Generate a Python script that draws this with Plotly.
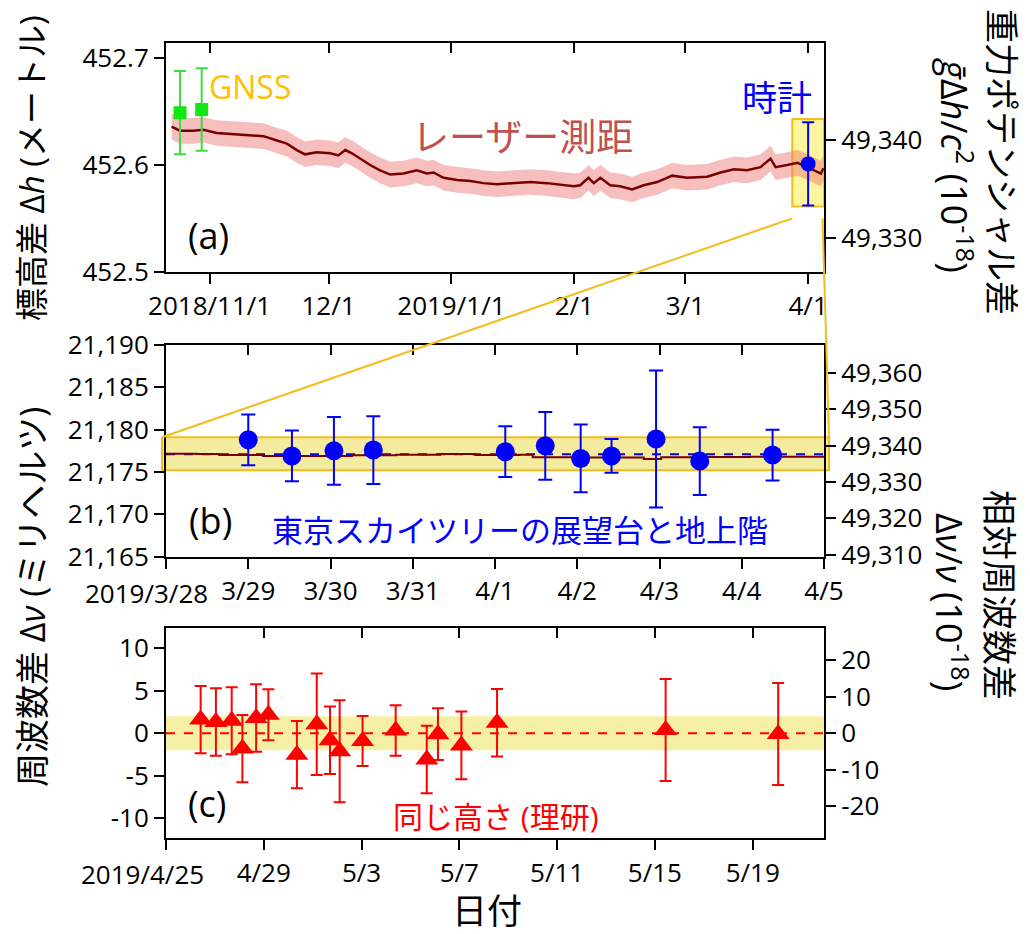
import plotly.graph_objects as go
import pandas as pd

W, H = 1030, 934
OFF = 8  # page body margin of the rendered html

# ---------------- data ----------------
# (a) laser ranging height difference (m)
laser_dates = [
    "2018-10-22 10:00", "2018-10-24 13:00", "2018-10-27 21:00", "2018-10-30 10:00",
    "2018-11-02 19:00", "2018-11-07 00:00", "2018-11-11 05:00", "2018-11-14 14:00",
    "2018-11-18 00:00", "2018-11-20 12:00", "2018-11-23 00:00", "2018-11-25 02:00",
    "2018-11-28 01:00", "2018-12-01 10:00", "2018-12-03 12:00", "2018-12-05 05:00",
    "2018-12-06 22:00", "2018-12-09 00:00", "2018-12-11 12:00", "2018-12-14 00:00",
    "2018-12-16 14:00", "2018-12-19 22:00", "2018-12-23 07:00", "2018-12-25 19:00",
    "2018-12-27 12:00", "2018-12-30 00:00", "2019-01-02 10:00", "2019-01-05 19:00",
    "2019-01-09 02:00", "2019-01-12 12:00", "2019-01-16 17:00", "2019-01-20 22:00",
    "2019-01-25 02:00", "2019-01-29 07:00", "2019-01-31 22:00", "2019-02-02 12:00",
    "2019-02-04 14:00", "2019-02-05 22:00", "2019-02-07 14:00", "2019-02-10 02:00",
    "2019-02-12 14:00", "2019-02-15 14:00", "2019-02-18 12:00", "2019-02-21 22:00",
    "2019-02-25 17:00", "2019-03-01 12:00", "2019-03-06 12:00", "2019-03-09 22:00",
    "2019-03-13 07:00", "2019-03-16 14:00", "2019-03-20 00:00", "2019-03-22 12:00",
    "2019-03-23 19:00", "2019-03-26 17:00", "2019-03-29 07:00", "2019-03-31 19:00",
    "2019-04-04 05:00", "2019-04-04 20:00",
]
laser_h = [
    452.636, 452.632, 452.632, 452.633,
    452.630, 452.629, 452.628, 452.627,
    452.623, 452.620, 452.614, 452.610,
    452.612, 452.611, 452.609, 452.614,
    452.611, 452.606, 452.600, 452.595,
    452.591, 452.592, 452.595, 452.592,
    452.593, 452.588, 452.586, 452.585,
    452.583, 452.582, 452.583, 452.584,
    452.583, 452.581, 452.580, 452.581,
    452.588, 452.583, 452.588, 452.581,
    452.580, 452.577, 452.581, 452.584,
    452.590, 452.588, 452.589, 452.593,
    452.596, 452.595, 452.598, 452.606,
    452.598, 452.600, 452.602, 452.598,
    452.592, 452.597,
]
laser_unc = 0.012

gnss_dates = ["2018-10-24 13:00", "2018-10-30 00:00"]
gnss_h = [452.649, 452.652]
gnss_err = [0.039, 0.0386]

clock_dates = ["2019-04-01 00:00"]
clock_h = [452.601]
clock_err = [0.039]

# (b) Tokyo Skytree observatory vs ground floor (mHz)
sky_dates = [
    "2019-03-29 00:00", "2019-03-29 12:45", "2019-03-30 01:00", "2019-03-30 12:30",
    "2019-04-01 03:00", "2019-04-01 14:40", "2019-04-02 01:00", "2019-04-02 10:00",
    "2019-04-02 23:00", "2019-04-03 11:45", "2019-04-04 09:00",
]
sky_dnu = [21178.8, 21176.9, 21177.5, 21177.6, 21177.4, 21178.1, 21176.6, 21176.9,
           21178.9, 21176.3, 21177.0]
sky_err = [3.0, 3.0, 4.0, 4.0, 3.0, 4.0, 4.0, 2.0, 8.1, 4.0, 3.0]
sky_mean = 21177.1

laser_b_dates = [
    "2019-03-28 00:00", "2019-03-28 09:00", "2019-03-28 15:30", "2019-03-29 04:20",
    "2019-03-29 17:15", "2019-03-30 06:15", "2019-03-30 19:10", "2019-03-31 08:00",
    "2019-03-31 18:15", "2019-04-01 07:10", "2019-04-01 11:00", "2019-04-01 22:50",
    "2019-04-02 11:30", "2019-04-02 19:25", "2019-04-03 00:30", "2019-04-03 13:25",
    "2019-04-04 02:25", "2019-04-05 00:00",
]
laser_b_dnu = [21177.17, 21177.13, 21177.0, 21176.9, 21176.9, 21176.97, 21177.05,
               21177.13, 21177.0, 21177.05, 21176.73, 21176.7, 21176.7, 21176.54,
               21176.73, 21176.77, 21176.8, 21176.8]
sky_band = [21175.2, 21179.1]

# (c) same height at RIKEN (mHz)
riken_dates = [
    "2019-04-26 10:00", "2019-04-27 01:00", "2019-04-27 16:30", "2019-04-28 03:00",
    "2019-04-28 16:30", "2019-04-29 04:30", "2019-04-30 08:30", "2019-05-01 04:00",
    "2019-05-01 17:00", "2019-05-02 02:30", "2019-05-03 01:00", "2019-05-04 09:30",
    "2019-05-05 16:00", "2019-05-06 03:00", "2019-05-07 02:00", "2019-05-08 13:00",
    "2019-05-15 10:30", "2019-05-20 01:00",
]
riken_dnu = [1.61, 1.33, 1.47, -1.80, 1.80, 2.18, -2.51, 1.06, -0.82, -2.10,
             -0.90, 0.33, -3.08, -0.10, -1.43, 1.24, 0.39, -0.08]
riken_err = [3.96, 3.96, 3.94, 3.96, 3.96, 3.0, 3.96, 5.96, 3.96, 6.0,
             2.94, 2.96, 3.98, 3.04, 3.98, 3.98, 6.0, 6.0]
riken_band = [-2.0, 2.0]

# tick labels (first labels of (b) and (c) are placed as annotations, shifted left)
a_tickvals = ["2018-11-01", "2018-12-01", "2019-01-01", "2019-02-01", "2019-03-01", "2019-04-01"]
a_ticktext = ["2018/11/1", "12/1", "2019/1/1", "2/1", "3/1", "4/1"]
b_tickvals = ["2019-03-28", "2019-03-29", "2019-03-30", "2019-03-31", "2019-04-01",
              "2019-04-02", "2019-04-03", "2019-04-04", "2019-04-05"]
b_ticktext = ["", "3/29", "3/30", "3/31", "4/1", "4/2", "4/3", "4/4", "4/5"]
b_first_label = "2019/3/28"
c_tickvals = ["2019-04-25", "2019-04-29", "2019-05-03", "2019-05-07", "2019-05-11",
              "2019-05-15", "2019-05-19"]
c_ticktext = ["", "4/29", "5/3", "5/7", "5/11", "5/15", "5/19"]
c_first_label = "2019/4/25"
c_left_vals = [-10, -5, 0, 5, 10]
c_left_text = ["-10", "-5", "0", "5", "10"]
c_right_vals = [-20, -10, 0, 10, 20]
c_right_text = ["-20", "-10", "0", "10", "20"]

# conversion constants (10^-18 units)
G_OVER_C2 = 109.009          # g/c^2 per metre
INV_NU0 = 1e-3 / 429228004229873.0 * 1e18   # per mHz

# ---------------- geometry ----------------
def fx(x):
    return (x - OFF) / W


def fy(y):
    return 1 - (y - OFF) / H


XDOM = [fx(166), fx(824)]
YDOM_A = [fy(271.7), fy(42.7)]
YDOM_B = [fy(556.7), fy(345.0)]
YDOM_C = [fy(838.3), fy(628.3)]

XR_A = ["2018-10-21", "2019-04-05"]
XR_B = ["2019-03-28", "2019-04-05"]
XR_C = ["2019-04-25", "2019-05-21 22:00"]
YR_A = [452.5, 452.7146]
YR_B = [21165, 21190]
YR_C = [-12.35, 12.35]

FONT = "Open Sans, Noto Sans CJK JP, sans-serif"
TICKF = dict(family=FONT, size=26, color="black")

blue = "#0000ff"
red = "#ff0000"
maroon = "#7a0000"
gold = "#f2bd1d"

fig = go.Figure()

# ---- (a) ----
upper = [v + laser_unc for v in laser_h]
lower = [v - laser_unc for v in laser_h]
fig.add_trace(go.Scatter(x=laser_dates, y=upper, mode="lines", line=dict(width=0),
                         showlegend=False, hoverinfo="skip", xaxis="x", yaxis="y"))
fig.add_trace(go.Scatter(x=laser_dates, y=lower, mode="lines", line=dict(width=0),
                         fill="tonexty", fillcolor="rgba(238,110,110,0.45)",
                         showlegend=False, hoverinfo="skip", xaxis="x", yaxis="y"))
fig.add_trace(go.Scatter(x=laser_dates, y=laser_h, mode="lines",
                         line=dict(color=maroon, width=2.5), showlegend=False,
                         xaxis="x", yaxis="y"))
fig.add_trace(go.Scatter(x=gnss_dates, y=gnss_h, mode="markers",
                         marker=dict(symbol="square", size=13, color="#10e810"),
                         error_y=dict(type="data", array=gnss_err, color="#3bdc3b",
                                      thickness=2, width=6),
                         showlegend=False, xaxis="x", yaxis="y"))
fig.add_trace(go.Scatter(x=clock_dates, y=clock_h, mode="markers",
                         marker=dict(symbol="circle", size=15, color=blue),
                         error_y=dict(type="data", array=clock_err, color=blue,
                                      thickness=2, width=6),
                         showlegend=False, xaxis="x", yaxis="y"))

# ---- (b) ----
fig.add_trace(go.Scatter(x=XR_B, y=[sky_mean, sky_mean], mode="lines",
                         line=dict(color=blue, width=2, dash="dash"),
                         showlegend=False, xaxis="x2", yaxis="y2"))
fig.add_trace(go.Scatter(x=laser_b_dates, y=laser_b_dnu, mode="lines", line_shape="hv",
                         line=dict(color=maroon, width=2), showlegend=False,
                         xaxis="x2", yaxis="y2"))
fig.add_trace(go.Scatter(x=sky_dates, y=sky_dnu, mode="markers",
                         marker=dict(symbol="circle", size=19, color=blue),
                         error_y=dict(type="data", array=sky_err, color=blue,
                                      thickness=2, width=7),
                         showlegend=False, xaxis="x2", yaxis="y2"))

# ---- (c) ----
fig.add_trace(go.Scatter(x=XR_C, y=[0, 0], mode="lines",
                         line=dict(color=red, width=2, dash="dash"),
                         showlegend=False, xaxis="x3", yaxis="y3"))
fig.add_trace(go.Scatter(x=riken_dates, y=riken_dnu, mode="markers",
                         marker=dict(symbol="triangle-up", size=20, color=red),
                         error_y=dict(type="data", array=riken_err, color=red,
                                      thickness=2, width=6),
                         showlegend=False, xaxis="x3", yaxis="y3"))

# dummy traces for overlay axes
for xa, ya in [("x", "y4"), ("x2", "y5"), ("x3", "y6"), ("x4", "y"), ("x5", "y2"), ("x6", "y3")]:
    fig.add_trace(go.Scatter(x=[None], y=[None], xaxis=xa, yaxis=ya, showlegend=False,
                             hoverinfo="skip"))


def xaxis(rng, tv, tt, anchor):
    return dict(type="date", range=rng, domain=XDOM, anchor=anchor, tickvals=tv,
                ticktext=tt, ticks="outside", ticklen=10, tickwidth=2, tickcolor="black",
                showline=True, linecolor="black", linewidth=2, showgrid=False,
                zeroline=False, tickfont=TICKF, tickangle=0, automargin=False)


def topaxis(rng, tv, over, anchor):
    return dict(type="date", range=rng, domain=XDOM, anchor=anchor, overlaying=over,
                side="top", tickvals=tv, ticks="inside", ticklen=10, tickwidth=2,
                tickcolor="black", showticklabels=False, showline=True, linecolor="black",
                linewidth=2, showgrid=False, zeroline=False, automargin=False)


def yaxis(rng, dom, anchor, **kw):
    d = dict(range=rng, domain=dom, anchor=anchor, ticks="outside", ticklen=10,
             tickwidth=2, tickcolor="black", showline=True, linecolor="black", linewidth=2,
             showgrid=False, zeroline=False, tickfont=TICKF, automargin=False)
    d.update(kw)
    return d


def raxis(rng, over, anchor, **kw):
    d = dict(range=rng, overlaying=over, side="right", anchor=anchor, ticks="outside",
             ticklen=10, tickwidth=2, tickcolor="black", showline=True, linecolor="black",
             linewidth=2, showgrid=False, zeroline=False, tickfont=TICKF, automargin=False)
    d.update(kw)
    return d


layout = dict(
    width=W, height=H, margin=dict(l=0, r=0, t=0, b=0),
    paper_bgcolor="white", plot_bgcolor="white",
    font=dict(family=FONT, color="black"),
    showlegend=False,
    xaxis=xaxis(XR_A, a_tickvals, a_ticktext, "y"),
    xaxis2=xaxis(XR_B, b_tickvals, b_ticktext, "y2"),
    xaxis3=xaxis(XR_C, c_tickvals, c_ticktext, "y3"),
    xaxis4=topaxis(XR_A, a_tickvals, "x", "y"),
    xaxis5=topaxis(XR_B, b_tickvals, "x2", "y2"),
    xaxis6=topaxis(XR_C, c_tickvals, "x3", "y3"),
    yaxis=yaxis(YR_A, YDOM_A, "x", tickvals=[452.5, 452.6, 452.7], tickformat=".1f"),
    yaxis2=yaxis(YR_B, YDOM_B, "x2", dtick=5, tickformat=",d"),
    yaxis3=yaxis(YR_C, YDOM_C, "x3", tickvals=c_left_vals, ticktext=c_left_text),
    yaxis4=raxis([v * G_OVER_C2 for v in YR_A], "y", "x", dtick=10, tickformat=",d"),
    yaxis5=raxis([v * INV_NU0 for v in YR_B], "y2", "x2", dtick=10, tickformat=",d"),
    yaxis6=raxis([v * INV_NU0 for v in YR_C], "y3", "x3",
                 tickvals=c_right_vals, ticktext=c_right_text),
)
fig.update_layout(**layout)

# ---------------- shapes ----------------
def to_paper_x(t, rng):
    t0, t1 = pd.Timestamp(rng[0]), pd.Timestamp(rng[1])
    f = (pd.Timestamp(t) - t0) / (t1 - t0)
    return XDOM[0] + f * (XDOM[1] - XDOM[0])


def to_paper_y(v, rng, dom):
    return dom[0] + (v - rng[0]) / (rng[1] - rng[0]) * (dom[1] - dom[0])


box_a_y = [452.561, 452.643]
shapes = [
    # (a) zoom box
    dict(type="rect", xref="x", yref="y", x0=XR_B[0], x1=XR_B[1], y0=box_a_y[0],
         y1=box_a_y[1], fillcolor="#fff59d", line=dict(color=gold, width=2), layer="below"),
    # (b) band
    dict(type="rect", xref="paper", yref="y2", x0=XDOM[0] - 4 / W, x1=XDOM[1] + 5 / W,
         y0=sky_band[0], y1=sky_band[1], fillcolor="#f3eb9e",
         line=dict(color=gold, width=2), layer="below"),
    # (c) band
    dict(type="rect", xref="x3 domain", yref="y3", x0=0, x1=1, y0=riken_band[0],
         y1=riken_band[1], fillcolor="#f5f0a6", line=dict(width=0), layer="below"),
]
# connector lines from (a) box to (b) band
ya_start = to_paper_y(box_a_y[0] - 0.011, YR_A, YDOM_A)
yb_end = to_paper_y(sky_band[1], YR_B, YDOM_B)
shapes.append(dict(type="line", xref="paper", yref="paper",
                   x0=to_paper_x(XR_B[0], XR_A), y0=ya_start,
                   x1=XDOM[0] - 4 / W, y1=yb_end, line=dict(color=gold, width=2)))
shapes.append(dict(type="line", xref="paper", yref="paper",
                   x0=to_paper_x(XR_B[1], XR_A) - 1.5 / W, y0=ya_start,
                   x1=XDOM[1] + 5 / W, y1=yb_end, line=dict(color=gold, width=2)))
fig.update_layout(shapes=shapes)

# ---------------- annotations ----------------
def ann(text, x, y, size, color="black", angle=0):
    return dict(text=text, x=fx(x), y=fy(y), xref="paper", yref="paper", showarrow=False,
                xanchor="center", yanchor="middle", textangle=angle,
                font=dict(family=FONT, size=size, color=color))


annotations = [
    ann("GNSS", 250, 87, 32, "#ffc000"),
    ann("レーザー測距", 522, 137, 37, "#c0504d"),
    ann("時計", 777, 97, 35, blue),
    ann("(a)", 208, 235, 36),
    ann("(b)", 210, 520, 36),
    ann("東京スカイツリーの展望台と地上階", 520, 530, 31, blue),
    ann("(c)", 207, 803, 36),
    ann("同じ高さ (理研)", 496, 816, 30, red),
    ann(b_first_label, 146, 593, 26),
    ann(c_first_label, 142, 874, 26),
    ann("標高差 Δ<i>h</i> (メートル)", 32, 168, 33, angle=-90),
    ann("周波数差 Δ<i>ν</i> (ミリヘルツ)", 32, 597, 34, angle=-90),
    ann("重力ポテンシャル差", 1002, 162, 34, angle=90),
    ann("<i>ḡ</i>Δ<i>h</i>/<i>c</i><sup>2</sup> (10<sup>-18</sup>)", 956, 165, 36, angle=90),
    ann("相対周波数差", 1000, 595, 35, angle=90),
    ann("Δ<i>ν</i>/<i>ν</i> (10<sup>-18</sup>)", 952, 602, 36, angle=90),
    ann("日付", 487, 910, 35),
]
fig.update_layout(annotations=annotations)

fig.write_html("out.html")
